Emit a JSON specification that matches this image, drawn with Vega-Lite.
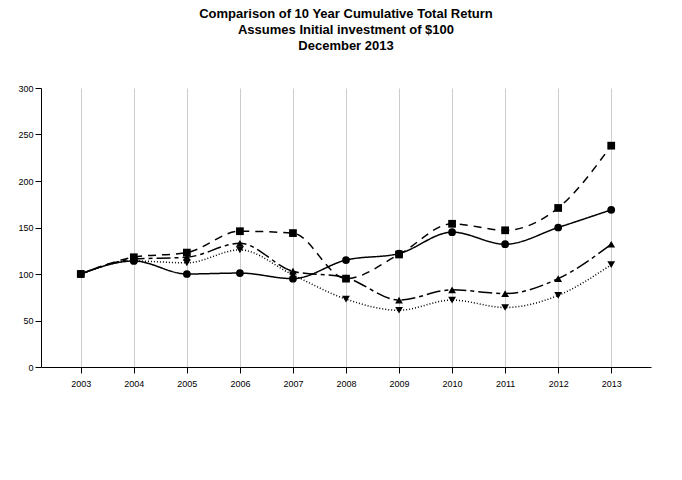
{
  "$schema": "https://vega.github.io/schema/vega-lite/v6.json",
  "width": 610,
  "height": 279,
  "padding": {"left": 17, "top": 8, "right": 5, "bottom": 5},
  "title": {"text": ["Comparison of 10 Year Cumulative Total Return", "Assumes Initial investment of $100", "December 2013"], "fontSize": 13, "font": "Liberation Sans", "fontWeight": "bold", "offset": 31, "lineHeight": 16},
  "config": {"view": {"stroke": null}, "font": "Liberation Sans"},
  "data": {"values": [
    {"year": "2003", "s": "Arrow Financial Corporation", "v": 100},
    {"year": "2004", "s": "Arrow Financial Corporation", "v": 114},
    {"year": "2005", "s": "Arrow Financial Corporation", "v": 100},
    {"year": "2006", "s": "Arrow Financial Corporation", "v": 101},
    {"year": "2007", "s": "Arrow Financial Corporation", "v": 95},
    {"year": "2008", "s": "Arrow Financial Corporation", "v": 115},
    {"year": "2009", "s": "Arrow Financial Corporation", "v": 122},
    {"year": "2010", "s": "Arrow Financial Corporation", "v": 145},
    {"year": "2011", "s": "Arrow Financial Corporation", "v": 132},
    {"year": "2012", "s": "Arrow Financial Corporation", "v": 150},
    {"year": "2013", "s": "Arrow Financial Corporation", "v": 169},
    {"year": "2003", "s": "Russell 2000 Index", "v": 100},
    {"year": "2004", "s": "Russell 2000 Index", "v": 118},
    {"year": "2005", "s": "Russell 2000 Index", "v": 123},
    {"year": "2006", "s": "Russell 2000 Index", "v": 146},
    {"year": "2007", "s": "Russell 2000 Index", "v": 144},
    {"year": "2008", "s": "Russell 2000 Index", "v": 95},
    {"year": "2009", "s": "Russell 2000 Index", "v": 121},
    {"year": "2010", "s": "Russell 2000 Index", "v": 154},
    {"year": "2011", "s": "Russell 2000 Index", "v": 147},
    {"year": "2012", "s": "Russell 2000 Index", "v": 171},
    {"year": "2013", "s": "Russell 2000 Index", "v": 238},
    {"year": "2003", "s": "NASDAQ Banks Index", "v": 100},
    {"year": "2004", "s": "NASDAQ Banks Index", "v": 114},
    {"year": "2005", "s": "NASDAQ Banks Index", "v": 112},
    {"year": "2006", "s": "NASDAQ Banks Index", "v": 126},
    {"year": "2007", "s": "NASDAQ Banks Index", "v": 99},
    {"year": "2008", "s": "NASDAQ Banks Index", "v": 73},
    {"year": "2009", "s": "NASDAQ Banks Index", "v": 61},
    {"year": "2010", "s": "NASDAQ Banks Index", "v": 72},
    {"year": "2011", "s": "NASDAQ Banks Index", "v": 64},
    {"year": "2012", "s": "NASDAQ Banks Index", "v": 77},
    {"year": "2013", "s": "NASDAQ Banks Index", "v": 110},
    {"year": "2003", "s": "Zacks $1B - $5B Bank Assets Index", "v": 100},
    {"year": "2004", "s": "Zacks $1B - $5B Bank Assets Index", "v": 116},
    {"year": "2005", "s": "Zacks $1B - $5B Bank Assets Index", "v": 118},
    {"year": "2006", "s": "Zacks $1B - $5B Bank Assets Index", "v": 133},
    {"year": "2007", "s": "Zacks $1B - $5B Bank Assets Index", "v": 103},
    {"year": "2008", "s": "Zacks $1B - $5B Bank Assets Index", "v": 96},
    {"year": "2009", "s": "Zacks $1B - $5B Bank Assets Index", "v": 72},
    {"year": "2010", "s": "Zacks $1B - $5B Bank Assets Index", "v": 83},
    {"year": "2011", "s": "Zacks $1B - $5B Bank Assets Index", "v": 79},
    {"year": "2012", "s": "Zacks $1B - $5B Bank Assets Index", "v": 95},
    {"year": "2013", "s": "Zacks $1B - $5B Bank Assets Index", "v": 132}
  ]},
  "encoding": {
    "x": {"field": "year", "type": "ordinal", "scale": {"type": "point", "padding": 0.75}, "axis": {"title": null, "labelAngle": 0, "grid": true, "gridColor": "#ccc", "domainColor": "#000", "tickColor": "#000", "labelColor": "#000", "labelFontSize": 9, "tickSize": 6, "labelPadding": 6}},
    "y": {"field": "v", "type": "quantitative", "scale": {"domain": [0, 300]}, "axis": {"title": null, "values": [0, 50, 100, 150, 200, 250, 300], "grid": false, "domainColor": "#000", "tickColor": "#000", "labelColor": "#000", "labelFontSize": 9, "tickSize": 6}}
  },
  "layer": [
    {"mark": {"type": "line", "interpolate": "monotone", "color": "#000", "strokeWidth": 1.5},
     "encoding": {"strokeDash": {"field": "s", "type": "nominal", "sort": null,
       "scale": {"domain": ["Arrow Financial Corporation", "Russell 2000 Index", "NASDAQ Banks Index", "Zacks $1B - $5B Bank Assets Index"], "range": [[1, 0], [8, 6], [1, 2], [14, 4, 4, 4]]},
       "legend": null}}},
    {"mark": {"type": "point", "filled": true, "color": "#000", "size": 60, "opacity": 1},
     "encoding": {"shape": {"field": "s", "type": "nominal", "sort": null,
       "scale": {"domain": ["Arrow Financial Corporation", "Russell 2000 Index", "NASDAQ Banks Index", "Zacks $1B - $5B Bank Assets Index"], "range": ["circle", "square", "triangle-down", "triangle-up"]},
       "legend": {"title": null, "orient": "none", "legendX": 30, "legendY": 328, "columns": 3, "labelFontSize": 8, "labelLimit": 300, "columnPadding": 90, "rowPadding": 14, "symbolSize": 70, "labelOffset": 12}}}}
  ]
}
